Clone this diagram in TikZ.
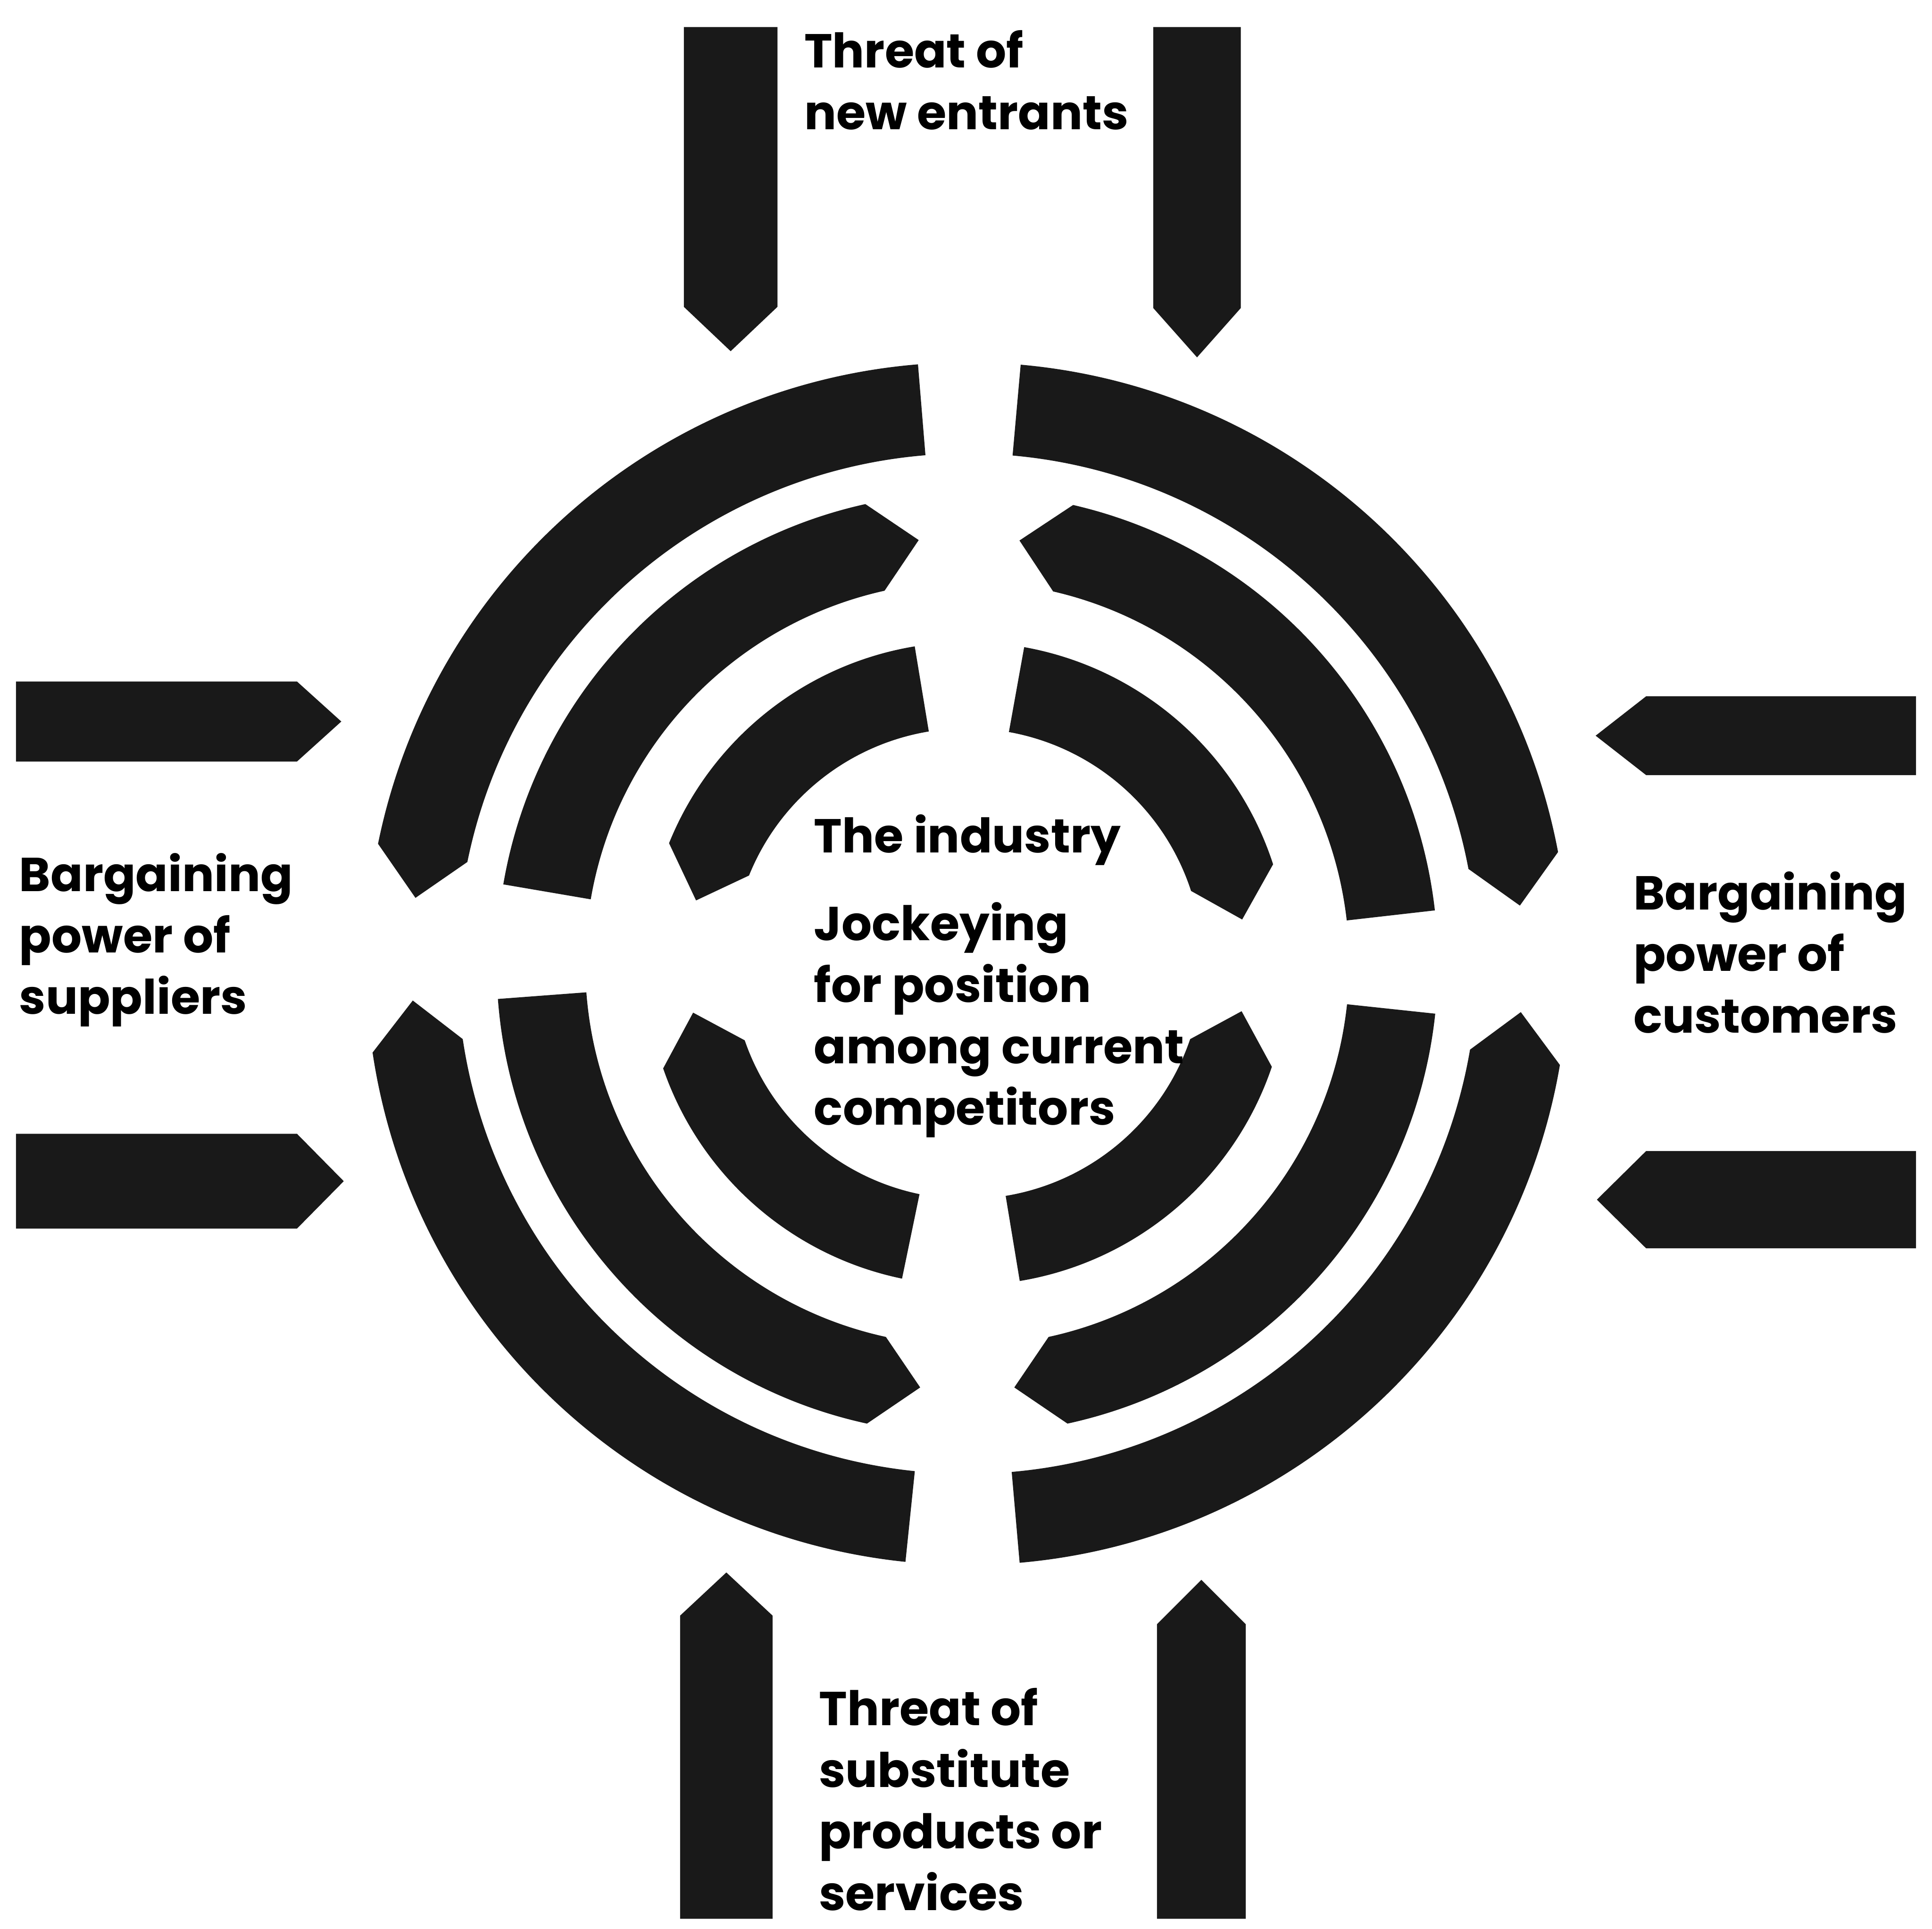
\documentclass[tikz,border=0pt]{standalone}
\usepackage{fontspec}
\setmainfont{Poppins}
\usetikzlibrary{positioning}

\begin{document}
\begin{tikzpicture}[
    band/.style = {fill=black!90},
    pointer/.style = {fill=black!90},
    forcetext/.style = {
        anchor=base west, align=left, inner sep=0pt,
        font=\fontsize{11}{14.2}\selectfont\bfseries
    }
]
\useasboundingbox (-7.85,-7.83) rectangle (7.83,7.82);

% ── Rings of the industry (flat end / pointed end / inner r / outer r) ──
\foreach \fa/\ea/\ri/\ro in {
    94.7/168.5/4.14/4.88, 170.3/102.5/3.10/3.82, 99.4/158/1.91/2.61,
    84.9/10.7/4.14/4.88,  6.5/77/3.10/3.82,      79.8/18/1.91/2.61,
    264.1/188.5/4.14/4.88, 184.3/257.7/3.10/3.82, 258.3/199/1.91/2.61,
    -85/-9.7/4.14/4.88,   -6.1/-77.7/3.10/3.82,  -80.6/-18.7/1.91/2.61} {
  \pgfmathsetmacro\rmid{(\ri+\ro)/2}
  \pgfmathsetmacro\tipang{\ea + sign(\ea-\fa)*deg((\ro-\ri)/2/\rmid)}
  \fill[band] (\fa:\ri) arc[start angle=\fa, end angle=\ea, radius=\ri]
      -- (\tipang:\rmid) -- (\ea:\ro)
      arc[start angle=\ea, end angle=\fa, radius=\ro] -- cycle;
}

% ── Arrows: new entrants (top) ──
\fill[pointer] (-2.30,7.60) -- (-1.54,7.60) -- (-1.54,5.33) -- (-1.92,4.97) -- (-2.30,5.33) -- cycle;
\fill[pointer] (1.51,7.60) -- (2.22,7.60) -- (2.22,5.32) -- (1.865,4.92) -- (1.51,5.32) -- cycle;

% ── Arrows: substitutes (bottom) ──
\fill[pointer] (-2.33,-7.75) -- (-1.58,-7.75) -- (-1.58,-5.29) -- (-1.955,-4.94) -- (-2.33,-5.29) -- cycle;
\fill[pointer] (1.54,-7.75) -- (2.26,-7.75) -- (2.26,-5.36) -- (1.90,-5.00) -- (1.54,-5.36) -- cycle;

% ── Arrows: suppliers (left) ──
\fill[pointer] (-7.72,2.29) -- (-5.44,2.29) -- (-5.08,1.965) -- (-5.44,1.64) -- (-7.72,1.64) -- cycle;
\fill[pointer] (-7.72,-1.38) -- (-5.44,-1.38) -- (-5.06,-1.765) -- (-5.44,-2.15) -- (-7.72,-2.15) -- cycle;

% ── Arrows: customers (right) ──
\fill[pointer] (7.70,2.17) -- (5.51,2.17) -- (5.10,1.85) -- (5.51,1.53) -- (7.70,1.53) -- cycle;
\fill[pointer] (7.70,-1.52) -- (5.51,-1.52) -- (5.11,-1.915) -- (5.51,-2.31) -- (7.70,-2.31) -- cycle;

% ── Labels (placed by the baseline of their last line) ──
\node[forcetext] (entrants)    at (-1.33,6.77)  {Threat of\\new entrants};
\node[forcetext] (suppliers)   at (-7.70,-0.41) {Bargaining\\power of\\suppliers};
\node[forcetext] (customers)   at (5.40,-0.56)  {Bargaining\\power of\\customers};
\node[forcetext] (industry)    at (-1.25,0.90)  {The industry};
\node[forcetext] (rivalry)     at (-1.25,-1.31) {Jockeying\\for position\\among current\\competitors};
\node[forcetext] (substitutes) at (-1.21,-7.68) {Threat of\\substitute\\products or\\services};

\end{tikzpicture}
\end{document}
